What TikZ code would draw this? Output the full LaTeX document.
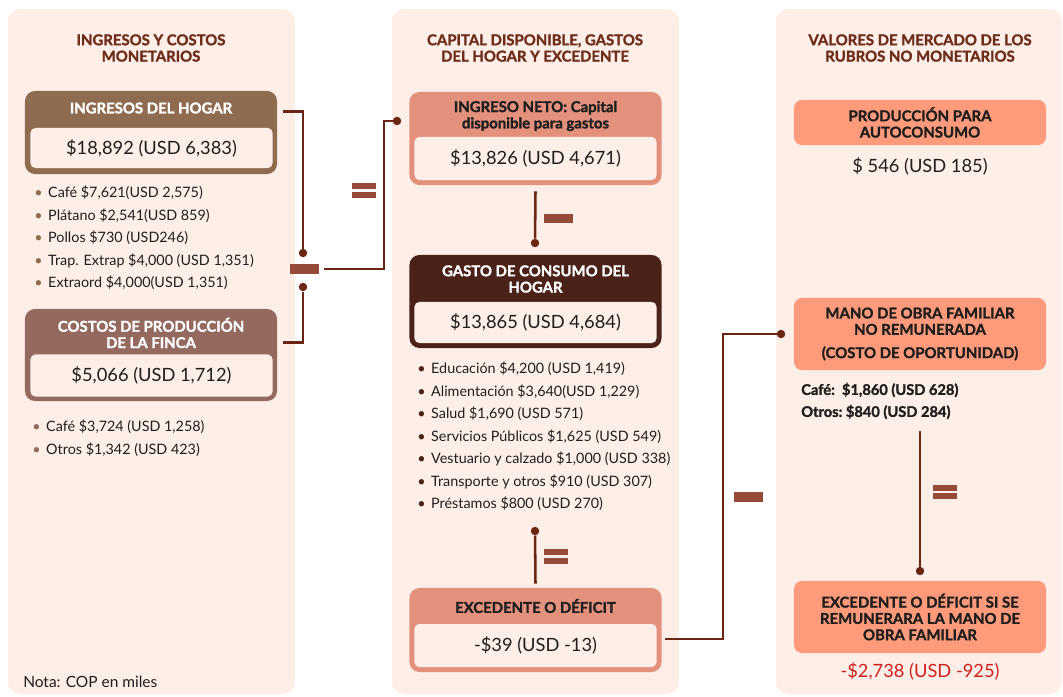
\documentclass[tikz,border=0pt]{standalone}
\usepackage{fontspec}
\setmainfont{Lato}[BoldFeatures={FakeBold=1.5}]
\usetikzlibrary{positioning}

\definecolor{panelbg}{HTML}{FDEEE7}
\definecolor{ttlbrown}{HTML}{6E2C1C}
\definecolor{hdrbrown}{HTML}{8F6C4F}
\definecolor{hdrmauve}{HTML}{94695F}
\definecolor{hdrsalmon}{HTML}{E3917C}
\definecolor{hdrdark}{HTML}{4A2219}
\definecolor{boxorange}{HTML}{FF9B7A}
\definecolor{connbrown}{HTML}{6B2613}
\definecolor{signbrown}{HTML}{954B38}
\definecolor{negred}{HTML}{D0201F}
\definecolor{txtdark}{HTML}{1E1E1E}

\newcommand{\ttlfont}{\bfseries\fontsize{10.6}{11.6}\selectfont}
\newcommand{\valfont}{\fontsize{13}{15}\selectfont}
\newcommand{\itemfont}{\fontsize{10.2}{16}\selectfont}
\newcommand{\bul}[1]{\textcolor{#1}{\textbullet}\hspace{4pt}}

\begin{document}
\begin{tikzpicture}[x=0.025cm, y=-0.025cm,
% common options for the boxes:
box/.style = {rounded corners=0.25cm, minimum width=6.3cm, inner sep=0},
inner/.style = {fill=panelbg, rounded corners=0.12cm, minimum width=6.05cm,
            inner sep=0, font=\valfont, text=txtdark},
obox/.style = {fill=boxorange, rounded corners=0.2cm, minimum width=6.3cm,
            align=center, font=\ttlfont, text=txtdark},
ttl/.style = {align=center, font=\ttlfont, text=ttlbrown},
hdr/.style = {align=center, font=\ttlfont},
itemlist/.style = {align=left, anchor=west, inner sep=0, font=\itemfont, text=txtdark},
% connectors and signs:
conn/.style = {draw=connbrown, line width=1.8pt},
dot/.style = {circle, fill=connbrown, minimum size=6pt, inner sep=0},
minus/.style = {fill=signbrown, minimum width=0.725cm, minimum height=0.24cm, inner sep=0},
eqsign/.style = {minimum width=0.6cm, minimum height=0.37cm, inner sep=0,
            path picture={\fill[signbrown] (path picture bounding box.north west)
              rectangle ([yshift=-0.15cm]path picture bounding box.north east);
              \fill[signbrown] (path picture bounding box.south west)
              rectangle ([yshift=0.15cm]path picture bounding box.south east);}}]
\useasboundingbox (0,0) rectangle (1063,696);

% panels
\fill[panelbg, rounded corners=0.3cm] (8,9) rectangle (295,694);
\fill[panelbg, rounded corners=0.3cm] (392,9) rectangle (679,694);
\fill[panelbg, rounded corners=0.3cm] (776,9) rectangle (1062,694);

\node[ttl] (t1) at (151,48) {INGRESOS Y COSTOS\\MONETARIOS};
\node[ttl] (t2) at (535,48) {CAPITAL DISPONIBLE, GASTOS\\DEL HOGAR Y EXCEDENTE};
\node[ttl] (t3) at (920,48) {VALORES DE MERCADO DE LOS\\RUBROS NO MONETARIOS};

% left column
\node[box, fill=hdrbrown, minimum height=2.075cm] (inghog) at (151,132.5) {};
\node[inner, minimum height=1.0cm] (inghogval) at (151.5,148) {\$18,892 (USD 6,383)};
\node[hdr, text=white] (inghogtxt) at (151,108) {INGRESOS DEL HOGAR};
\node[itemlist] (inglist) at (34,238) {\bul{hdrbrown}Café \$7,621(USD 2,575)\\
  \bul{hdrbrown}Plátano \$2,541(USD 859)\\
  \bul{hdrbrown}Pollos \$730 (USD246)\\
  \bul{hdrbrown}Trap. Extrap \$4,000 (USD 1,351)\\
  \bul{hdrbrown}Extraord \$4,000(USD 1,351)};

\node[box, fill=hdrmauve, minimum height=2.3cm] (costos) at (151,355) {};
\node[inner, minimum height=1.05cm] (costosval) at (151.5,375.5) {\$5,066 (USD 1,712)};
\node[hdr, text=white] (costostxt) at (151,333) {COSTOS DE PRODUCCIÓN\\DE LA FINCA};
\node[itemlist] (coslist) at (32,438) {\bul{hdrmauve}Café \$3,724 (USD 1,258)\\
  \bul{hdrmauve}Otros \$1,342 (USD 423)};

\node[anchor=west, inner sep=0, font=\fontsize{11}{13}\selectfont, text=txtdark] (nota) at (23,682) {Nota: COP en miles};

% middle column
\node[box, fill=hdrsalmon, minimum height=2.325cm] (ingneto) at (535.5,138.5) {};
\node[inner, minimum height=1.075cm] (ingnetoval) at (535.5,158.5) {\$13,826 (USD 4,671)};
\node[hdr, text=txtdark] (ingnetotxt) at (535.5,116) {INGRESO NETO: Capital\\disponible para gastos};

\node[box, fill=hdrdark, minimum height=2.325cm] (gasto) at (535.5,301.5) {};
\node[inner, minimum height=1.025cm] (gastoval) at (535.5,322.5) {\$13,865 (USD 4,684)};
\node[hdr, text=white] (gastotxt) at (535.5,279) {GASTO DE CONSUMO DEL\\HOGAR};
\node[itemlist] (gaslist) at (417,436.5) {\bul{hdrdark}Educación \$4,200 (USD 1,419)\\
  \bul{hdrdark}Alimentación \$3,640(USD 1,229)\\
  \bul{hdrdark}Salud \$1,690 (USD 571)\\
  \bul{hdrdark}Servicios Públicos \$1,625 (USD 549)\\
  \bul{hdrdark}Vestuario y calzado \$1,000 (USD 338)\\
  \bul{hdrdark}Transporte y otros \$910 (USD 307)\\
  \bul{hdrdark}Préstamos \$800 (USD 270)};

\node[box, fill=hdrsalmon, minimum height=2.1cm] (exced) at (535.5,630) {};
\node[inner, minimum height=1.075cm] (excedval) at (535.5,645.5) {-\$39 (USD -13)};
\node[hdr, text=txtdark] (excedtxt) at (535.5,606) {EXCEDENTE O DÉFICIT};

% right column
\node[obox, minimum height=1.125cm] (prod) at (920,122.5) {PRODUCCIÓN PARA\\AUTOCONSUMO};
\node[font=\valfont, text=txtdark] (prodval) at (920,166) {\$ 546 (USD 185)};

\node[obox, minimum height=1.8cm] (mano) at (920,334) {MANO DE OBRA FAMILIAR\\NO REMUNERADA\\[5pt](COSTO DE OPORTUNIDAD)};
\node[anchor=west, inner sep=0, font=\bfseries\fontsize{10.4}{16}\selectfont, text=txtdark] (cafe) at (801,390) {Café:\ \ \$1,860 (USD 628)};
\node[anchor=west, inner sep=0, font=\bfseries\fontsize{10.4}{16}\selectfont, text=txtdark] (otros) at (801,412) {Otros:\ \$840 (USD 284)};

\node[obox, minimum height=1.8cm] (excedsi) at (920,617) {EXCEDENTE O DÉFICIT SI SE\\REMUNERARA LA MANO DE\\OBRA FAMILIAR};
\node[font=\valfont, text=negred] (excedsival) at (920,671) {-\$2,738 (USD -925)};

% connectors
\node[dot] (d1) at (303,253) {};
\node[dot] (d2) at (303,287) {};
\node[minus] (m1) at (304.5,269) {};
\node[eqsign] (e1) at (364,190.5) {};
\node[dot] (d3) at (397,121) {};
\draw[conn] ([shift={(0.15cm,-0.525cm)}]inghog.north east) -| (d1);
\draw[conn] ([shift={(0.15cm,-0.85cm)}]costos.north east) -| (d2);
\draw[conn] ([xshift=0.125cm]m1.east) -| ([xshift=-0.325cm]d3.center) -- (d3);

\node[dot] (d4) at (535,243) {};
\node[minus] (m2) at (558.5,218.5) {};
\draw[conn] ([yshift=-0.15cm]ingneto.south) -- (d4);
\node[dot] (d5) at (535,531) {};
\node[eqsign] (e2) at (556,556.5) {};
\draw[conn] (d5) -- ([yshift=0.1cm]exced.north);

\node[dot] (d6) at (781,334) {};
\node[minus] (m3) at (748.5,497) {};
\draw[conn] ([shift={(0.075cm,-0.225cm)}]exced.east) -| ([xshift=-1.45cm]d6.center) -- (d6);

\node[dot] (d7) at (920,571) {};
\node[eqsign] (e3) at (945,492) {};
\draw[conn] ([yshift=-0.3cm]d7 |- otros.south) -- (d7);
\end{tikzpicture}
\end{document}
